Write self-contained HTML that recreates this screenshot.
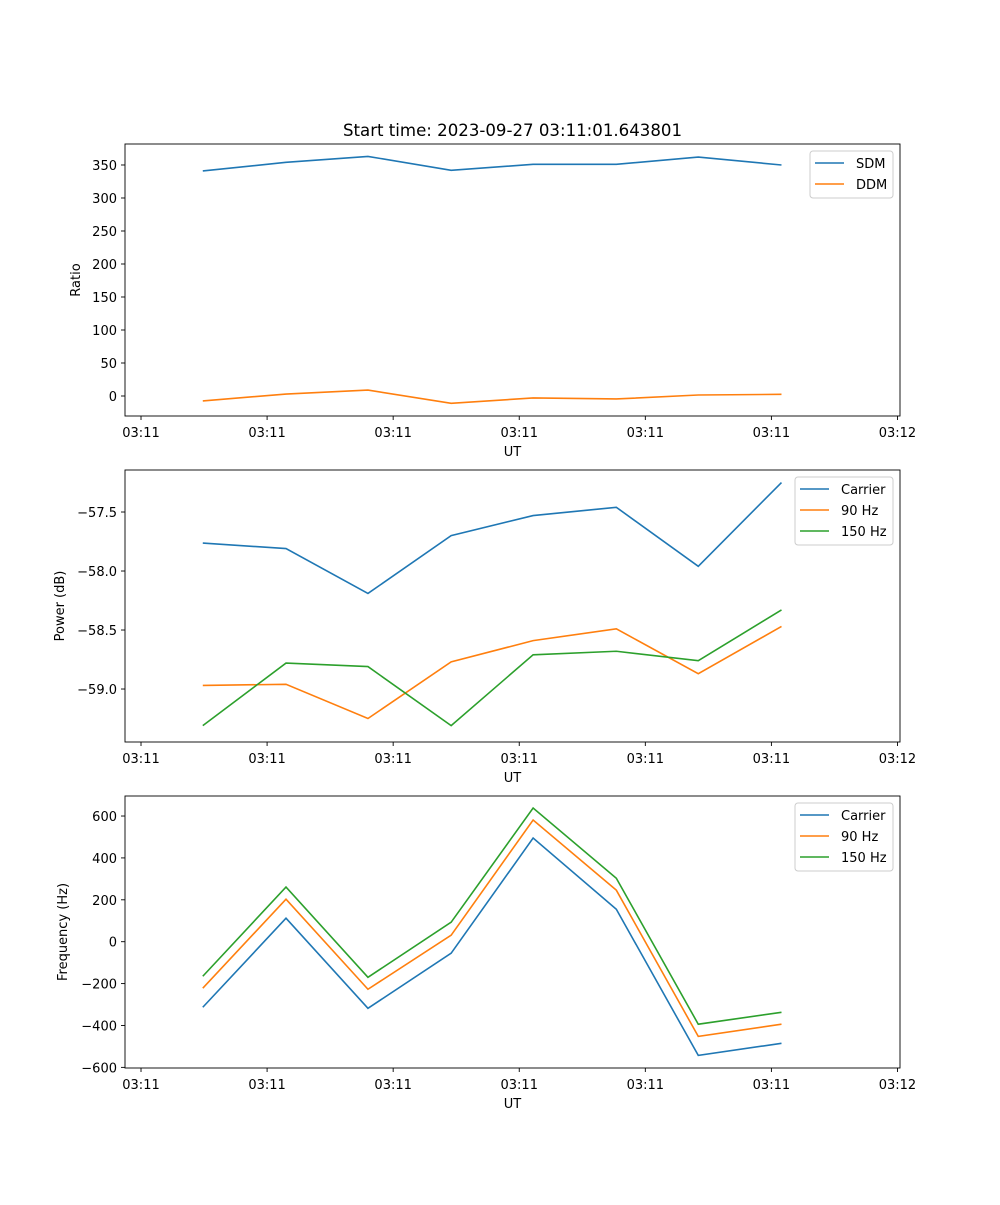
<!DOCTYPE html>
<html><head><meta charset="utf-8"><style>
body{margin:0;background:#fff}
svg text{font-family:"DejaVu Sans","Liberation Sans",sans-serif;font-size:13px;fill:#000}
</style></head><body>
<svg id="fig" width="1000" height="1200"></svg>
<script>
// shared x data (seconds offset in tick units)
const times=[0.49,1.15,1.80,2.46,3.11,3.77,4.42,5.08];
const xTicks=[0,1,2,3,4,5,6];
const xTickLabels=["03:11","03:11","03:11","03:11","03:11","03:11","03:12"];
// panel 1
const sdm=[341,354,363,342,351,351,362,350];
const ddm=[-7.5,3,9,-11,-3,-4.5,1.5,2.5];
const ticks1=[0,50,100,150,200,250,300,350];
// panel 2
const pCarrier=[-57.763,-57.81,-58.19,-57.70,-57.53,-57.46,-57.96,-57.25];
const p90=[-58.97,-58.96,-59.25,-58.77,-58.59,-58.49,-58.87,-58.47];
const p150=[-59.31,-58.78,-58.81,-59.31,-58.71,-58.68,-58.76,-58.33];
const ticks2=[-59.0,-58.5,-58.0,-57.5];
const tickLabels2=["\u221259.0","\u221258.5","\u221258.0","\u221257.5"];
// panel 3
const fCarrier=[-313,112,-318,-55,495,155,-543,-485];
const f90=[-222,203,-227,31,581,246,-452,-394];
const f150=[-165,261,-170,93,638,303,-394,-337];
const ticks3=[-600,-400,-200,0,200,400,600];
const tickLabels3=["\u2212600","\u2212400","\u2212200","0","200","400","600"];

const NS="http://www.w3.org/2000/svg";
const svg=document.getElementById('fig');
function mk(tag,attrs,parent){const e=document.createElementNS(NS,tag);for(const k in attrs)e.setAttribute(k,attrs[k]);(parent||svg).appendChild(e);return e;}
const L=125,R=900;
const xMin=-0.127,xMax=6.02;
const xs=v=>L+(v-xMin)/(xMax-xMin)*(R-L);
const C=['#1f77b4','#ff7f0e','#2ca02c'];

function panel(name,top,bot,yMin,yMax,yt,ytl,ylabel,series,names,legend){
  const g=mk('g',{});
  
  
  const ys=v=>bot-(v-yMin)/(yMax-yMin)*(bot-top);
  series.forEach((s,i)=>{
    const p=mk('polyline',{points:s.map((v,j)=>xs(times[j])+','+ys(v)).join(' '),fill:'none',stroke:C[i],'stroke-width':1.6},g);
    
    
  });
  mk('rect',{x:L,y:top,width:R-L,height:bot-top,fill:'none',stroke:'#000','stroke-width':0.9},g);
  xTicks.forEach((t,i)=>{const x=xs(t);mk('line',{x1:x,x2:x,y1:bot,y2:bot+4,stroke:'#000','stroke-width':0.9},g);
    const tx=mk('text',{x:x,y:bot+21,'text-anchor':'middle'},g);tx.textContent=xTickLabels[i];
    
    });
  yt.forEach((t,i)=>{const y=ys(t);mk('line',{x1:L,x2:L-4,y1:y,y2:y,stroke:'#000','stroke-width':0.9},g);
    const tx=mk('text',{x:L-8,y:y+5,'text-anchor':'end'},g);tx.textContent=ytl?ytl[i]:String(t);
    
    });
  const xl=mk('text',{x:(L+R)/2,y:bot+40,'text-anchor':'middle'},g);xl.textContent='UT';
  
  
  const yl=mk('text',{x:0,y:0,'text-anchor':'middle',transform:`translate(${ylabel[1]},${(top+bot)/2}) rotate(-90)`},g);yl.textContent=ylabel[0];
  
  
  const lg=mk('g',{},g);
  
  
  mk('rect',{x:legend[0],y:top+7,width:R-7-legend[0],height:names.length*21+5,rx:3,fill:'#fff','fill-opacity':0.8,stroke:'#ccc'},lg);
  names.forEach((n,i)=>{const y=top+19+i*21;
    mk('line',{x1:legend[0]+5,x2:legend[0]+34,y1:y,y2:y,stroke:C[i],'stroke-width':1.6},lg);
    const t=mk('text',{x:legend[0]+46,y:y+5},lg);t.textContent=n;
    
    });
}
panel('ratio-panel',144,416,-30.3,381.8,ticks1,null,['Ratio',80],[sdm,ddm],['SDM','DDM'],[810]);
panel('power-panel',470,742,-59.449,-57.144,ticks2,tickLabels2,['Power (dB)',64],[pCarrier,p90,p150],['Carrier','90 Hz','150 Hz'],[795]);
panel('frequency-panel',796,1068,-603,695.6,ticks3,tickLabels3,['Frequency (Hz)',67],[fCarrier,f90,f150],['Carrier','90 Hz','150 Hz'],[795]);
const title=mk('text',{x:512.5,y:136,'text-anchor':'middle',style:'font-size:16.6px'});
title.textContent='Start time: 2023-09-27 03:11:01.643801';


</script>
</body></html>
